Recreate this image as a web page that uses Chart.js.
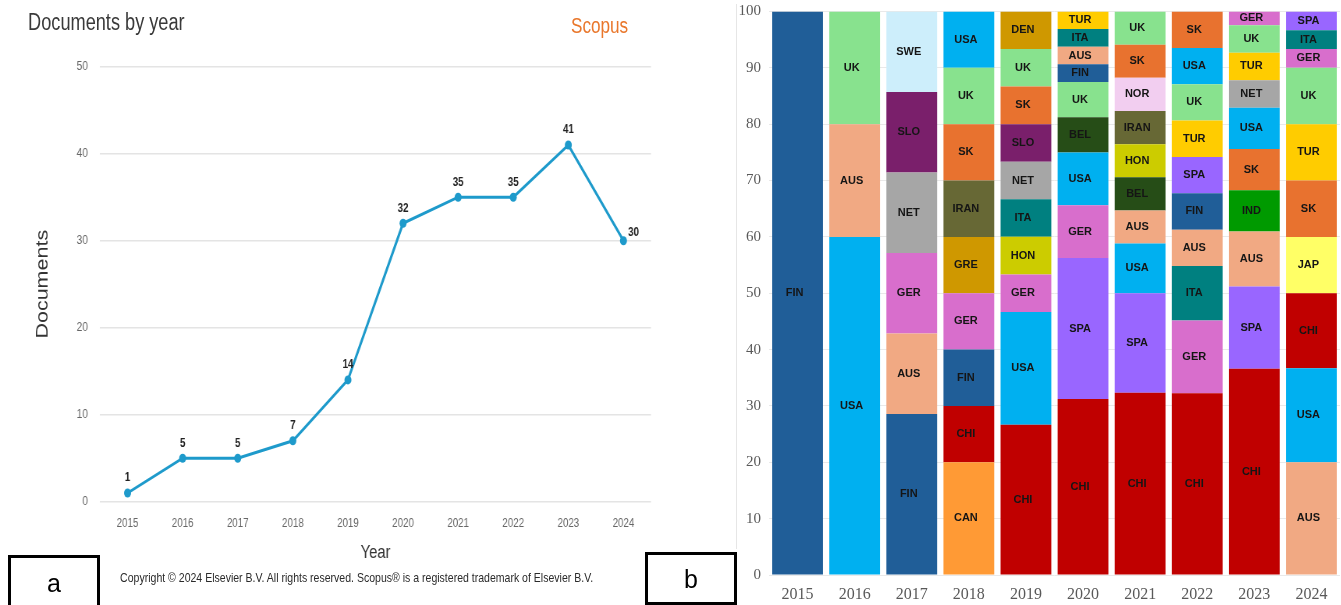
<!DOCTYPE html>
<html>
<head>
<meta charset="utf-8">
<script src="https://cdn.jsdelivr.net/npm/chart.js@4.4.1/dist/chart.umd.min.js"></script>
<style>
  body { margin: 0; background: #fff; width: 1341px; height: 605px; overflow: hidden; position: relative; font-family: 'Liberation Sans', Arial, sans-serif; }
  /* the scopus panel is squeezed sideways in the original figure */
  #left { position: absolute; left: 0; top: 0; width: 897px; height: 605px; transform: scaleX(0.78); transform-origin: 0 0; }
  #leftChart { position: absolute; left: 0; top: 0; width: 897px; height: 605px; }
  #right { position: absolute; left: 700px; top: 0; width: 641px; height: 605px; }
  .txt { position: absolute; white-space: nowrap; }
  .box { position: absolute; border: 3px solid #000; box-sizing: border-box; }
  .box span { position: absolute; left: 0; right: 0; text-align: center; font-size: 25px; line-height: 25px; color: #000; }
  #divider { position: absolute; left: 736px; top: 4px; width: 1px; height: 545px; background: #e6e6e6; }
</style>
</head>
<body>
<div id="left">
  <div class="txt" style="left:36px;top:10px;font-size:23.3px;line-height:24px;color:#3a3a3a;">Documents by year</div>
  <div class="txt" style="left:732px;top:15px;font-size:22px;line-height:22px;color:#e9772c;">Scopus</div>
  <div class="txt" style="left:154px;top:571px;font-size:13.5px;line-height:13px;color:#2a2a2a;">Copyright © 2024 Elsevier B.V. All rights reserved. Scopus® is a registered trademark of Elsevier B.V.</div>
  <div id="leftChart"><canvas id="documentsChart"></canvas></div>
</div>
<div id="divider"></div>
<div id="right"><canvas id="countryChart"></canvas></div>
<div class="box" style="left:8px;top:555px;width:92px;height:56px;"><span style="top:13px;">a</span></div>
<div class="box" style="left:645px;top:552px;width:92px;height:53px;"><span style="top:12px;">b</span></div>

<script>
// Documents per year (Scopus)
const years = ['2015', '2016', '2017', '2018', '2019', '2020', '2021', '2022', '2023', '2024'];
const documentCounts = [1, 5, 5, 7, 14, 32, 35, 35, 41, 30];

// Country share (%) per year, listed from the bottom of each bar to the top
const countriesByYear = [
    ['FIN'],
    ['USA', 'AUS', 'UK'],
    ['FIN', 'AUS', 'GER', 'NET', 'SLO', 'SWE'],
    ['CAN', 'CHI', 'FIN', 'GER', 'GRE', 'IRAN', 'SK', 'UK', 'USA'],
    ['CHI', 'USA', 'GER', 'HON', 'ITA', 'NET', 'SLO', 'SK', 'UK', 'DEN'],
    ['CHI', 'SPA', 'GER', 'USA', 'BEL', 'UK', 'FIN', 'AUS', 'ITA', 'TUR'],
    ['CHI', 'SPA', 'USA', 'AUS', 'BEL', 'HON', 'IRAN', 'NOR', 'SK', 'UK'],
    ['CHI', 'GER', 'ITA', 'AUS', 'FIN', 'SPA', 'TUR', 'UK', 'USA', 'SK'],
    ['CHI', 'SPA', 'AUS', 'IND', 'SK', 'USA', 'NET', 'TUR', 'UK', 'GER'],
    ['AUS', 'USA', 'CHI', 'JAP', 'SK', 'TUR', 'UK', 'GER', 'ITA', 'SPA']
];
const sharesByYear = [
    [100],
    [60, 20, 20],
    [28.58, 14.28, 14.28, 14.28, 14.28, 14.28],
    [20, 10, 10, 10, 10, 10, 10, 10, 10],
    [26.67, 20, 6.67, 6.67, 6.66, 6.67, 6.66, 6.67, 6.66, 6.67],
    [31.25, 25, 9.38, 9.37, 6.25, 6.25, 3.13, 3.12, 3.13, 3.12],
    [32.35, 17.65, 8.82, 5.88, 5.88, 5.88, 5.89, 5.88, 5.88, 5.89],
    [32.26, 12.9, 9.68, 6.45, 6.45, 6.45, 6.45, 6.45, 6.45, 6.46],
    [36.59, 14.63, 9.76, 7.32, 7.32, 7.32, 4.88, 4.88, 4.88, 2.42],
    [20, 16.67, 13.33, 10, 10, 10, 10, 3.33, 3.34, 3.33]
];

const countryColours = {
    FIN: '#205e98', USA: '#00b0f0', AUS: '#f1a983', UK: '#88e28e', SWE: '#cdeefb',
    SLO: '#7a1f6b', NET: '#a6a6a6', GER: '#d86ecc', CAN: '#ff9a35', CHI: '#c00000',
    GRE: '#cf9800', IRAN: '#676835', SK: '#e8722f', DEN: '#cf9800', HON: '#cccc00',
    ITA: '#008080', SPA: '#9966ff', BEL: '#264d17', TUR: '#ffcc00', NOR: '#f2cef0',
    IND: '#009a00', JAP: '#ffff66'
};

// ---------- panel a : line chart ----------
const pointValueLabels = {
    id: 'pointValueLabels',
    afterDatasetsDraw(chart) {
        const ctx = chart.ctx;
        const points = chart.getDatasetMeta(0).data;
        ctx.save();
        ctx.font = 'bold 12.5px "Liberation Sans", Arial, sans-serif';
        ctx.fillStyle = '#222';
        ctx.textBaseline = 'middle';
        points.forEach((p, i) => {
            const last = i === points.length - 1;
            ctx.textAlign = last ? 'left' : 'center';
            ctx.fillText(String(documentCounts[i]), last ? p.x + 6 : p.x, last ? p.y - 8 : p.y - 15);
        });
        ctx.restore();
    }
};

const documentsChartCtx = document.getElementById('documentsChart').getContext('2d');
const documentsChart = new Chart(documentsChartCtx, {
    type: 'line',
    data: {
        labels: years,
        datasets: [{
            label: 'Documents',
            data: documentCounts,
            borderColor: '#1e9acb',
            backgroundColor: '#1e9acb',
            borderWidth: 3,
            pointRadius: 4.5,
            pointBorderWidth: 0,
            pointBackgroundColor: '#1e9acb',
            tension: 0
        }]
    },
    options: {
        responsive: true,
        maintainAspectRatio: false,
        animation: false,
        layout: { padding: { top: 66.7, right: 62.4, bottom: 30, left: 0 } },
        plugins: { legend: { display: false }, tooltip: { enabled: false } },
        scales: {
            x: {
                offset: true,
                grid: { display: false },
                border: { display: false },
                ticks: { color: '#666', font: { size: 12.5 }, padding: 6 },
                title: { display: true, text: 'Year', color: '#333', font: { size: 19 }, padding: { top: 0, bottom: 11 } },
                afterFit(scale) { scale.height = 73.3; }
            },
            y: {
                min: 0,
                max: 50,
                ticks: { stepSize: 10, color: '#666', font: { size: 13 }, padding: 15.4 },
                grid: { color: '#e4e4e4', lineWidth: 1.5, drawTicks: false },
                border: { display: false },
                title: { display: true, text: 'Documents', color: '#333', font: { size: 21.5 }, padding: { top: 42, bottom: 0 } },
                afterFit(scale) { scale.width = 128.2; }
            }
        }
    },
    plugins: [pointValueLabels]
});

// ---------- panel b : stacked country shares ----------
const layerCount = Math.max(...countriesByYear.map(c => c.length));
const layerDatasets = [];
for (let k = 0; k < layerCount; k++) {
    layerDatasets.push({
        label: 'Layer ' + (k + 1),
        data: sharesByYear.map(s => (s[k] !== undefined ? s[k] : null)),
        countries: countriesByYear.map(c => c[k] || ''),
        backgroundColor: countriesByYear.map(c => countryColours[c[k]] || 'rgba(0,0,0,0)'),
        borderWidth: 0,
        barPercentage: 0.89,
        categoryPercentage: 1
    });
}

const segmentLabels = {
    id: 'segmentLabels',
    afterDatasetsDraw(chart) {
        const ctx = chart.ctx;
        ctx.save();
        ctx.font = 'bold 11px "Liberation Sans", Arial, sans-serif';
        ctx.fillStyle = '#151515';
        ctx.textAlign = 'center';
        ctx.textBaseline = 'middle';
        chart.data.datasets.forEach((ds, di) => {
            chart.getDatasetMeta(di).data.forEach((bar, i) => {
                if (!ds.data[i]) return;
                ctx.fillText(ds.countries[i], bar.x - 3, (bar.y + bar.base) / 2);
            });
        });
        ctx.restore();
    }
};

const countryChartCtx = document.getElementById('countryChart').getContext('2d');
const countryChart = new Chart(countryChartCtx, {
    type: 'bar',
    data: { labels: years, datasets: layerDatasets },
    options: {
        responsive: true,
        maintainAspectRatio: false,
        animation: false,
        layout: { padding: { top: 11.5, right: 1, bottom: 0, left: 0 } },
        plugins: { legend: { display: false }, tooltip: { enabled: false } },
        scales: {
            x: {
                stacked: true,
                grid: { display: false },
                border: { display: false },
                ticks: { color: '#595959', font: { family: '"Liberation Serif", serif', size: 16 }, padding: 2 },
                afterFit(scale) { scale.height = 30; }
            },
            y: {
                stacked: true,
                min: 0,
                max: 100,
                ticks: { stepSize: 10, color: '#595959', font: { family: '"Liberation Serif", serif', size: 15 }, padding: 8 },
                grid: { color: '#e9e9e9', drawTicks: false },
                border: { display: false },
                afterFit(scale) {
                    scale.width = 69;
                    scale.paddingTop = 0;
                    scale.paddingBottom = 0;
                }
            }
        }
    },
    plugins: [segmentLabels]
});
</script>
</body>
</html>
